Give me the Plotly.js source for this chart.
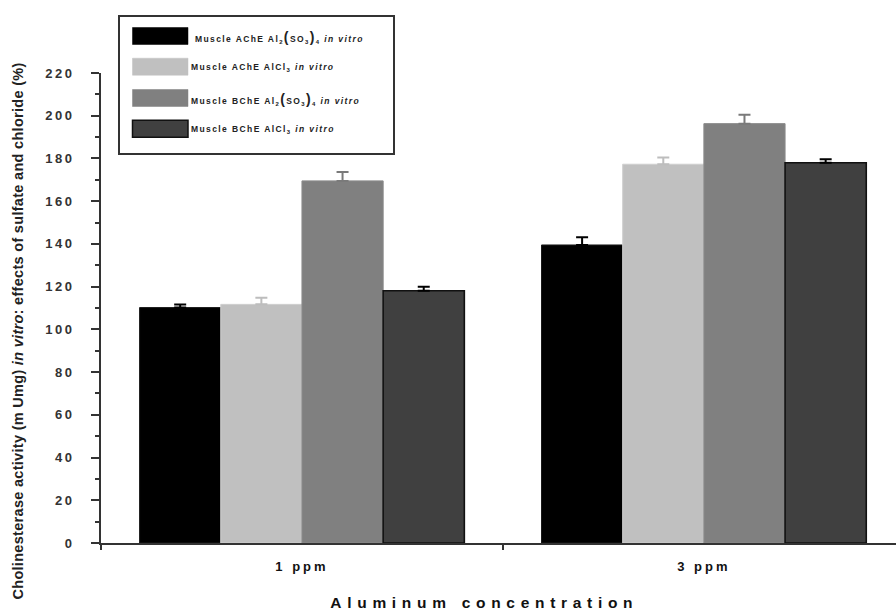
<!DOCTYPE html>
<html>
<head>
<meta charset="utf-8">
<script src="https://cdn.plot.ly/plotly-3.0.1.min.js"></script>
<style>html,body{margin:0;padding:0;background:#fff;}</style>
</head>
<body>
<div id="chart" style="width:896px;height:610px;"></div>
<script>
// ---- data ----
const categories = ["1 ppm", "3 ppm"];
const seriesNames = [
  'Muscle AChE Al<sub>2</sub><span style="font-size:14px">(</span>SO<sub>3</sub><span style="font-size:14px">)</span><sub>4</sub> <i>in vitro</i>',
  'Muscle AChE AlCl<sub>3</sub> <i>in vitro</i>',
  'Muscle BChE Al<sub>2</sub><span style="font-size:14px">(</span>SO<sub>3</sub><span style="font-size:14px">)</span><sub>4</sub> <i>in vitro</i>',
  'Muscle BChE AlCl<sub>3</sub> <i>in vitro</i>'
];
const acheSulfate = [110.2, 139.5];
const acheChloride = [111.7, 177.3];
const bcheSulfate = [169.5, 196.3];
const bcheChloride = [118.1, 178.0];
const acheSulfateErr = [1.4, 3.6];
const acheChlorideErr = [3.1, 3.1];
const bcheSulfateErr = [4.2, 4.1];
const bcheChlorideErr = [1.8, 1.6];
const yTickVals = [0, 20, 40, 60, 80, 100, 120, 140, 160, 180, 200, 220];

const values = [acheSulfate, acheChloride, bcheSulfate, bcheChloride];
const errs = [acheSulfateErr, acheChlorideErr, bcheSulfateErr, bcheChlorideErr];
const fills = ["#000000", "#c0c0c0", "#808080", "#404040"];
const lines = ["#1a1a1a", "#cfcfcf", "#8a8a8a", "#111111"];
const lineW = [1, 1, 1, 1.6];
const errColors = ["#000000", "#bdbdbd", "#7a7a7a", "#000000"];

const traces = values.map((v, i) => ({
  type: "bar",
  x: categories,
  y: v,
  name: seriesNames[i],
  marker: { color: fills[i], line: { color: lines[i], width: lineW[i] } },
  error_y: { type: "data", array: errs[i], arrayminus: errs[i].map(() => 0), symmetric: false,
             color: errColors[i], thickness: 2, width: 6 },
  showlegend: false
}));

// plot-area pixel geometry (margins)
const L = 101, R = 0, T = 73, B = 67, W = 896, H = 610;
const pw = W - L - R, ph = H - T - B;
const px = x => (x - L) / pw;
const py = y => (H - B - y) / ph;

// custom legend (box + swatches + labels)
const shapes = [{
  type: "rect", xref: "paper", yref: "paper",
  x0: px(119), x1: px(394), y0: py(154), y1: py(16),
  line: { color: "#333333", width: 2 }, fillcolor: "#ffffff", layer: "above"
}];
const rowCenters = [36, 66.7, 98, 128.7];
const textX = [193, 189, 189, 189];
const annotations = [];
rowCenters.forEach((c, i) => {
  shapes.push({
    type: "rect", xref: "paper", yref: "paper",
    x0: px(132.5), x1: px(188), y0: py(c + 8.5), y1: py(c - 8.5),
    fillcolor: fills[i], line: { color: i === 3 ? "#111111" : fills[i], width: i === 3 ? 1.5 : 0.5 },
    layer: "above"
  });
  annotations.push({
    xref: "paper", yref: "paper", x: px(textX[i]), y: py(c + 1), xanchor: "left", yanchor: "middle",
    text: "<b>" + seriesNames[i] + "</b>", showarrow: false,
    font: { family: "Liberation Sans, Arial, sans-serif", size: 8.5, color: "#222" }
  });
});

annotations.push({
  xref: "paper", yref: "paper", x: px(18), y: py(331), xanchor: "center", yanchor: "middle",
  textangle: -90, showarrow: false,
  text: "<b>Cholinesterase activity (m Umg) <i>in vitro</i>: effects of sulfate and chloride (%)</b>",
  font: { family: "Liberation Sans, Arial, sans-serif", size: 14.5, color: "#222" }
});
annotations.push({
  xref: "paper", yref: "paper", x: px(484), y: py(602), xanchor: "center", yanchor: "middle",
  showarrow: false, text: "<b>Aluminum concentration</b>",
  font: { family: "Liberation Sans, Arial, sans-serif", size: 15.5, color: "#111" }
});

const layout = {
  width: W, height: H,
  margin: { l: L, r: R, t: T, b: B, pad: 0 },
  paper_bgcolor: "#ffffff", plot_bgcolor: "#ffffff",
  barmode: "group", bargap: 0.192, bargroupgap: 0,
  font: { family: "Liberation Sans, Arial, sans-serif", color: "#222" },
  xaxis: {
    type: "category", range: [-0.5, 1.478], showgrid: false, zeroline: false,
    showline: true, linecolor: "#333", linewidth: 2,
    ticks: "outside", tickson: "boundaries", ticklen: 5, tickwidth: 2, tickcolor: "#333",
    ticklabelstandoff: 10,
    tickfont: { family: "Liberation Sans, Arial, sans-serif", size: 13, color: "#111", weight: "bold" }
  },
  yaxis: {
    range: [0, 220], showgrid: false, zeroline: false,
    showline: true, linecolor: "#333", linewidth: 2,
    tickmode: "array", tickvals: yTickVals,
    ticks: "outside", ticklen: 8, tickwidth: 2, tickcolor: "#333",
    minor: { dtick: 10, ticks: "outside", ticklen: 4, tickwidth: 2, tickcolor: "#333" },
    ticklabelstandoff: 14,
    tickfont: { family: "Liberation Sans, Arial, sans-serif", size: 13, color: "#333", weight: "bold" }
  },
  shapes: shapes,
  annotations: annotations
};

function spaceText(t, spacing, keepLeft) {
  const w0 = t.getBBox().width;
  t.style.letterSpacing = spacing;
  if (keepLeft) {
    const w1 = t.getBBox().width;
    const dx = (w1 - w0) / 2;
    const prev = t.getAttribute("transform") || "";
    t.setAttribute("transform", prev + " translate(" + dx + ",0)");
  }
}

Plotly.newPlot("chart", traces, layout, { displayModeBar: false, staticPlot: true }).then(gd => {
  document.querySelectorAll("g.ytick text").forEach(t => t.style.letterSpacing = "2.5px");
  document.querySelectorAll("g.xtick text").forEach(t => t.style.letterSpacing = "3px");
  document.querySelectorAll(".annotation-text").forEach(t => {
    const s = t.textContent;
    if (s.indexOf("Aluminum") === 0) spaceText(t, "5.7px", false);
    else if (s.indexOf("Muscle") === 0) spaceText(t, "1.4px", true);
    else if (s.indexOf("Cholinesterase") === 0) spaceText(t, "0.3px", false);
  });
});
</script>
</body>
</html>
